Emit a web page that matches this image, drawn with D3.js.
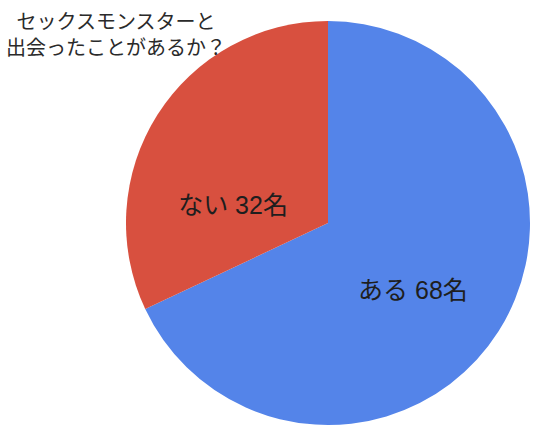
<!DOCTYPE html>
<html><head><meta charset="utf-8">
<script src="https://cdn.jsdelivr.net/npm/d3@7"></script>
<style>body{margin:0;background:#fff}svg{display:block}</style>
</head><body>
<script>
const categories = ["ある", "ない"];
const values = [68, 32];
const unit = "名";
const colors = ["#5484E9", "#D8503F"];
const titleLines = ["セックスモンスターと", "出会ったことがあるか？"];

const W = 540, H = 435;
const svg = d3.select("body").append("svg").attr("width", W).attr("height", H);
const cx = 328, cy = 223, R = 202;
const data = categories.map((c, i) => ({cat: c, val: values[i], color: colors[i]}));
const pie = d3.pie().value(d => d.val).sort(null);
const arc = d3.arc().innerRadius(0).outerRadius(R);
const arcs = pie(data);
const g = svg.append("g").attr("transform", `translate(${cx},${cy})`);
g.selectAll("path").data(arcs).join("path")
  .attr("d", arc).attr("fill", d => d.data.color);

const FONT = "'Liberation Sans', 'Noto Sans CJK JP', sans-serif";
const labelPos = [[85, 76], [-95, -9]];
g.selectAll("text").data(arcs).join("text")
  .attr("x", (d, i) => labelPos[i][0]).attr("y", (d, i) => labelPos[i][1])
  .attr("text-anchor", "middle")
  .attr("font-family", FONT)
  .attr("font-size", 25).attr("fill", "#1e1e1e")
  .text(d => `${d.data.cat} ${d.data.val}${unit}`);

svg.append("g").selectAll("text").data(titleLines).join("text")
  .attr("x", 116).attr("y", (d, i) => 29 + i * 26)
  .attr("text-anchor", "middle")
  .attr("font-family", FONT)
  .attr("font-size", 20).attr("fill", "#2a2a2a")
  .text(d => d);
</script>
</body></html>
